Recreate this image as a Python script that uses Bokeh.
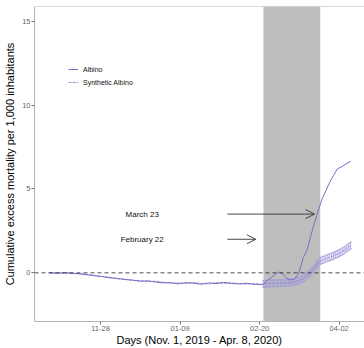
import pandas as pd
from bokeh.plotting import figure
from bokeh.models import (Range1d, FixedTicker, DatetimeTickFormatter, BoxAnnotation, Span,
                          Arrow, OpenHead, Legend, LegendItem, Whisker, TeeHead, ColumnDataSource, Label)
from bokeh.embed import file_html
from bokeh.resources import INLINE

# ---------------- data ----------------
PRE_DATES = ["2019-11-01", "2019-11-05", "2019-11-09", "2019-11-13", "2019-11-17", "2019-11-21",
             "2019-11-25", "2019-11-29", "2019-12-03", "2019-12-07", "2019-12-11", "2019-12-15",
             "2019-12-19", "2019-12-23", "2019-12-27", "2019-12-31", "2020-01-04", "2020-01-08",
             "2020-01-12", "2020-01-16", "2020-01-20", "2020-01-24", "2020-01-28", "2020-02-01",
             "2020-02-05", "2020-02-09", "2020-02-13", "2020-02-17", "2020-02-21"]
ALBINO_PRE = [0.00, -0.03, 0.01, -0.02, -0.06, -0.12, -0.18, -0.22, -0.30, -0.33, -0.40, -0.43,
              -0.50, -0.47, -0.55, -0.60, -0.58, -0.66, -0.58, -0.62, -0.68, -0.60, -0.64, -0.57,
              -0.63, -0.66, -0.62, -0.68, -0.70]
SYNTH_PRE = [0.00, 0.01, -0.02, -0.04, -0.05, -0.09, -0.15, -0.23, -0.26, -0.36, -0.38, -0.46,
             -0.47, -0.53, -0.50, -0.56, -0.62, -0.60, -0.64, -0.57, -0.63, -0.67, -0.58, -0.63,
             -0.60, -0.64, -0.67, -0.65, -0.68]

ALBINO_POST_DATES = ["2020-02-22", "2020-02-24", "2020-02-26", "2020-02-28", "2020-03-01",
                     "2020-03-03", "2020-03-05", "2020-03-07", "2020-03-09", "2020-03-11",
                     "2020-03-12", "2020-03-14", "2020-03-16", "2020-03-18", "2020-03-20",
                     "2020-03-22", "2020-03-24", "2020-03-26", "2020-03-28", "2020-03-30",
                     "2020-04-01", "2020-04-03", "2020-04-05", "2020-04-08"]
ALBINO_POST = [-0.68, -0.45, -0.30, -0.12, 0.05, -0.05, -0.30, -0.42, -0.40, -0.15, 0.10, 0.90,
               1.35, 2.20, 3.00, 3.75, 4.40, 4.90, 5.40, 5.80, 6.20, 6.30, 6.45, 6.65]

SYNTH_POST_START = "2020-02-22"
SYNTH_POST = [-0.66, -0.65, -0.64, -0.63, -0.63, -0.62, -0.62, -0.61,
              -0.61, -0.60, -0.61, -0.62, -0.62, -0.60, -0.58, -0.57, -0.55, -0.52, -0.49,
              -0.45, -0.40, -0.35, -0.25, -0.15, -0.06, 0.05, 0.17, 0.30, 0.45, 0.58, 0.70,
              0.76, 0.80, 0.85, 0.89, 0.93, 0.97, 1.02, 1.07,
              1.12, 1.17, 1.23, 1.30, 1.38, 1.46, 1.54, 1.62]
SYNTH_SE = 0.2

SERIES_LABELS = ["Albino", "Synthetic Albino"]
X_TICKS = ["2019-11-28", "2020-01-09", "2020-02-20", "2020-04-02"]
Y_TICKS = [0, 5, 10, 15]
SHADE = ["2020-02-22", "2020-03-23"]
ANNOT_TEXT = ["March 23", "February 22"]
ANNOT_Y = [3.5, 2.0]
ANNOT_TEXT_X = "2019-12-20"
ARROW_START = "2020-02-03"
ARROW_END = ["2020-03-20", "2020-02-18"]
X_TITLE = "Days (Nov. 1, 2019 - Apr. 8, 2020)"
Y_TITLE = "Cumulative excess mortality per 1,000 inhabitants"

FONT = "Liberation Sans"

def dt(s):
    return pd.Timestamp(s)

albino_x = [dt(d) for d in PRE_DATES + ALBINO_POST_DATES]
albino_y = ALBINO_PRE + ALBINO_POST
synth_post_dates = list(pd.date_range(SYNTH_POST_START, periods=len(SYNTH_POST), freq="D"))
synth_x = [dt(d) for d in PRE_DATES] + synth_post_dates
synth_y = SYNTH_PRE + SYNTH_POST

day = pd.Timedelta(days=1)
x0 = dt("2019-11-28") - 34.85 * day
x1 = x0 + 174.2 * day
Y_END = 15.87

p = figure(width=364, height=348, x_axis_type="datetime", output_backend="svg",
           toolbar_location=None, x_range=Range1d(x0, x1), y_range=Range1d(-2.90, Y_END),
           min_border_left=34, min_border_right=0, min_border_top=6, min_border_bottom=25)
p.outline_line_color = None
p.xgrid.visible = False
p.ygrid.visible = False
p.background_fill_color = "white"

# shaded intervention period
p.add_layout(BoxAnnotation(left=dt(SHADE[0]), right=dt(SHADE[1]), fill_color="#bebebe",
                           fill_alpha=1.0, line_color=None, level="underlay"))
# top border
p.add_layout(Span(location=Y_END, dimension="width", line_color="#b3b3b3", line_width=1.2))
# zero line
p.add_layout(Span(location=0, dimension="width", line_color="#222222", line_width=0.8,
                  line_dash="4 3"))

# error bars synthetic
src = ColumnDataSource(dict(x=synth_post_dates,
                            lo=[v - SYNTH_SE for v in SYNTH_POST],
                            hi=[v + SYNTH_SE for v in SYNTH_POST]))
wcol = "#a29cdb"
p.add_layout(Whisker(source=src, base="x", lower="lo", upper="hi", line_color=wcol,
                     line_width=0.8,
                     upper_head=TeeHead(size=3, line_color=wcol, line_width=0.8),
                     lower_head=TeeHead(size=3, line_color=wcol, line_width=0.8)))

r_s = p.line(synth_x, synth_y, line_color="#8a84d0", line_width=0.9, line_dash="3 1")
r_a = p.line(albino_x, albino_y, line_color="#7770c8", line_width=1.0)

# arrows and labels
for txt, yv, xe in zip(ANNOT_TEXT, ANNOT_Y, ARROW_END):
    p.add_layout(Arrow(x_start=dt(ARROW_START), y_start=yv, x_end=dt(xe), y_end=yv,
                       line_color="#333333", line_width=0.9,
                       end=OpenHead(size=9, line_color="#333333", line_width=0.9)))
    p.add_layout(Label(x=dt(ANNOT_TEXT_X), y=yv, text=txt, text_font=FONT,
                       text_font_size="8px", text_align="center", text_baseline="middle",
                       text_color="#111111"))

legend = Legend(items=[LegendItem(label=SERIES_LABELS[0], renderers=[r_a]),
                       LegendItem(label=SERIES_LABELS[1], renderers=[r_s])],
                location=(34, 234), orientation="vertical", padding=0, spacing=3,
                glyph_width=10, glyph_height=10, label_height=10, label_standoff=5,
                label_text_font=FONT, label_text_font_size="7px", label_text_color="#111111",
                border_line_color=None, background_fill_alpha=0, margin=0)
p.add_layout(legend)

# axes
for ax in (p.xaxis[0], p.yaxis[0]):
    ax.axis_line_color = "#b3b3b3"
    ax.major_tick_line_color = "#777777"
    ax.minor_tick_line_color = None
    ax.major_tick_in = 0
    ax.major_tick_out = 3
    ax.major_label_text_font = FONT
    ax.major_label_text_font_size = "7.5px"
    ax.major_label_text_color = "#666666"
    ax.axis_label_text_font = FONT
    ax.axis_label_text_font_size = "11px"
    ax.axis_label_text_font_style = "normal"
    ax.axis_label_text_color = "#000000"
    ax.major_label_standoff = 1

p.xaxis.ticker = FixedTicker(ticks=[dt(t).value / 1e6 for t in X_TICKS])
p.xaxis.formatter = DatetimeTickFormatter(days="%m-%d", months="%m-%d", years="%m-%d")
p.xaxis.axis_label = X_TITLE
p.xaxis.axis_label_standoff = 0
p.yaxis.ticker = FixedTicker(ticks=Y_TICKS)
p.yaxis.axis_label = Y_TITLE
p.yaxis.axis_label_standoff = 3

open("out.html", "w").write(file_html(p, INLINE))
